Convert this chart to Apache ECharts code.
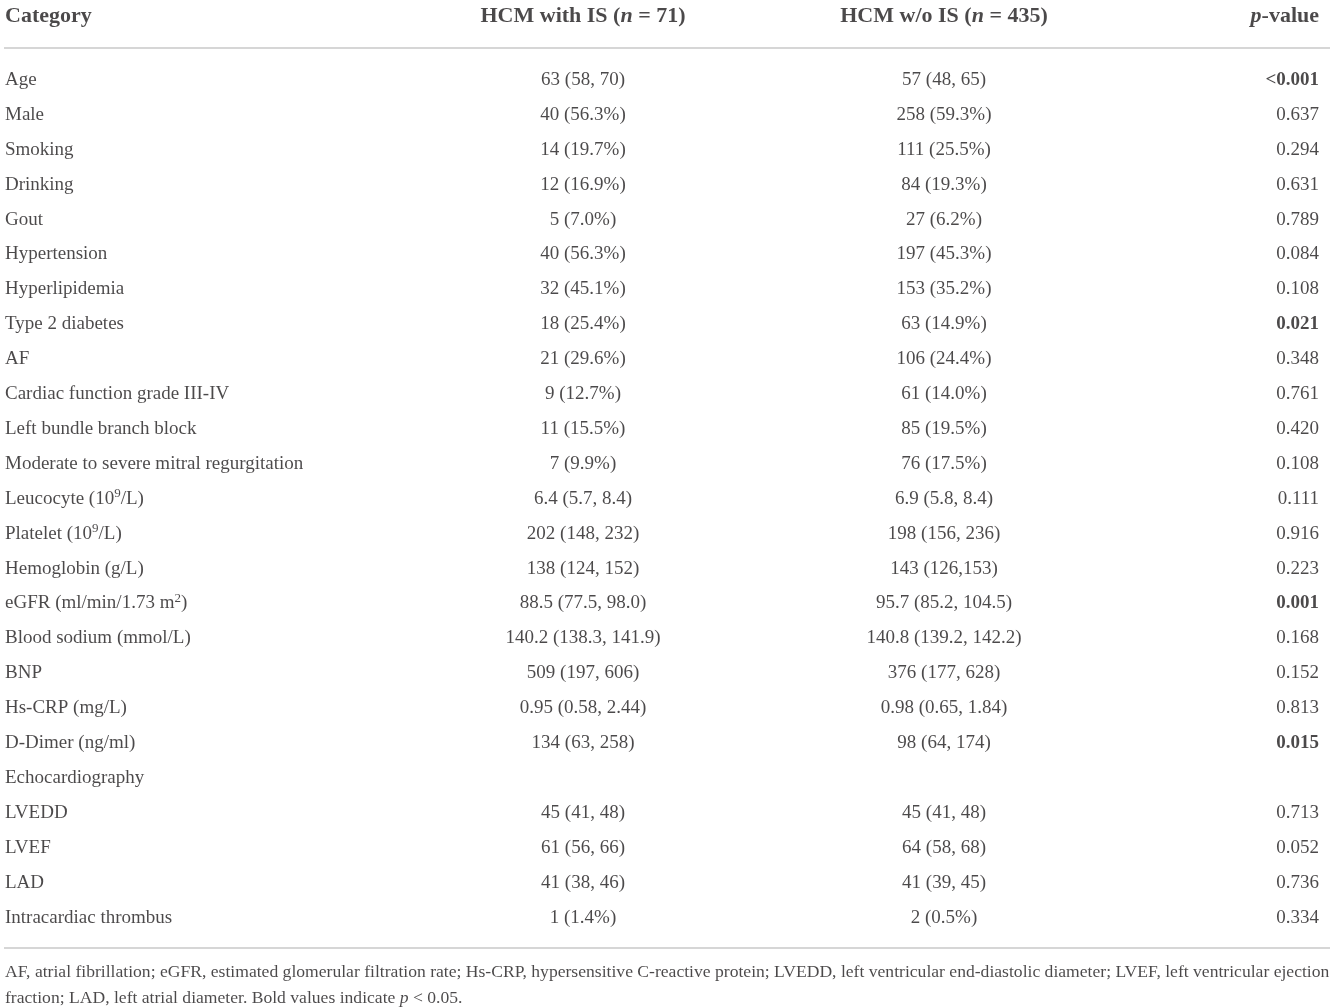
<!DOCTYPE html>
<html>
<head>
<meta charset="utf-8">
<script src="https://cdn.jsdelivr.net/npm/echarts@6/dist/echarts.min.js"></script>
<style>
  html, body { margin: 0; padding: 0; background: #fff; }
  #chart { width: 1334px; height: 1008px; }
</style>
</head>
<body>
<div id="chart"></div>
<script>
// Baseline characteristics table drawn as label-only scatter series.
const headers = ['Category', 'HCM with IS ({i|n} = 71)', 'HCM w/o IS ({i|n} = 435)', '{i|p}-value'];

const categories = [
  'Age', 'Male', 'Smoking', 'Drinking', 'Gout', 'Hypertension', 'Hyperlipidemia',
  'Type 2 diabetes', 'AF', 'Cardiac function grade III-IV', 'Left bundle branch block',
  'Moderate to severe mitral regurgitation', 'Leucocyte (10{sup|9}/L)', 'Platelet (10{sup|9}/L)',
  'Hemoglobin (g/L)', 'eGFR (ml/min/1.73 m{sup|2})', 'Blood sodium (mmol/L)', 'BNP',
  'Hs-CRP (mg/L)', 'D-Dimer (ng/ml)', 'Echocardiography', 'LVEDD', 'LVEF', 'LAD',
  'Intracardiac thrombus',
];
const withIS = [
  '63 (58, 70)', '40 (56.3%)', '14 (19.7%)', '12 (16.9%)', '5 (7.0%)', '40 (56.3%)', '32 (45.1%)',
  '18 (25.4%)', '21 (29.6%)', '9 (12.7%)', '11 (15.5%)', '7 (9.9%)', '6.4 (5.7, 8.4)',
  '202 (148, 232)', '138 (124, 152)', '88.5 (77.5, 98.0)', '140.2 (138.3, 141.9)', '509 (197, 606)',
  '0.95 (0.58, 2.44)', '134 (63, 258)', '', '45 (41, 48)', '61 (56, 66)', '41 (38, 46)', '1 (1.4%)',
];
const withoutIS = [
  '57 (48, 65)', '258 (59.3%)', '111 (25.5%)', '84 (19.3%)', '27 (6.2%)', '197 (45.3%)', '153 (35.2%)',
  '63 (14.9%)', '106 (24.4%)', '61 (14.0%)', '85 (19.5%)', '76 (17.5%)', '6.9 (5.8, 8.4)',
  '198 (156, 236)', '143 (126,153)', '95.7 (85.2, 104.5)', '140.8 (139.2, 142.2)', '376 (177, 628)',
  '0.98 (0.65, 1.84)', '98 (64, 174)', '', '45 (41, 48)', '64 (58, 68)', '41 (39, 45)', '2 (0.5%)',
];
const pValues = [
  '<0.001', '0.637', '0.294', '0.631', '0.789', '0.084', '0.108', '0.021', '0.348', '0.761',
  '0.420', '0.108', '0.111', '0.916', '0.223', '0.001', '0.168', '0.152', '0.813', '0.015',
  '', '0.713', '0.052', '0.736', '0.334',
];
const notes = [
  'AF, atrial fibrillation; eGFR, estimated glomerular filtration rate; Hs-CRP, hypersensitive C-reactive protein; LVEDD, left ventricular end-diastolic diameter; LVEF, left ventricular ejection',
  'fraction; LAD, left atrial diameter. Bold values indicate {i|p} < 0.05.',
];

// layout (pixel rows -> axis units)
const FONT = "'Liberation Serif', 'Times New Roman', serif";
const INK = '#1e1c1d';
const ROW_Y0 = 80;
const ROW_H = 34.9;
const Y_MIN = -ROW_Y0 / ROW_H;
const Y_MAX = Y_MIN + 1008 / ROW_H;
const COL_X = [5, 583, 944, 1319];
const HEAD_ROW = -1.834;
const RULES = [-0.905, 24.87];
const NOTE_ROWS = [25.56, 26.31];
const BODY_SIZE = 19;
const HEAD_SIZE = 22;
const NOTE_SIZE = 17.6;

function richFor(size, bold) {
  return {
    i: { fontFamily: FONT, fontStyle: 'italic', fontWeight: bold ? 'bold' : 'normal', fontSize: size, color: INK },
    sup: { fontFamily: FONT, fontSize: Math.round(size * 0.66), color: INK, verticalAlign: 'top', lineHeight: 12 },
  };
}

function textSeries(name, texts, x, align, rows, extra) {
  const data = [];
  texts.forEach((s, i) => {
    if (!s) return;
    const item = { name: s, value: [x, rows ? rows[i] : i] };
    if (extra) item.label = extra(s, i);
    data.push(item);
  });
  return {
    type: 'scatter', name, data, symbolSize: 0, clip: false, silent: true,
    label: {
      show: true, position: 'inside', align, verticalAlign: 'middle',
      formatter: (p) => p.name, fontFamily: FONT, fontSize: BODY_SIZE, color: INK,
      lineHeight: 23, rich: richFor(BODY_SIZE, false),
    },
  };
}

const isBold = (p) => parseFloat(p.replace('<', '')) < 0.05;

const headerSeries = headers.map((h, c) => textSeries(
  'head' + c, [h], COL_X[c], ['left', 'center', 'center', 'right'][c], [HEAD_ROW],
  () => ({ fontWeight: 'bold', fontSize: HEAD_SIZE, rich: richFor(HEAD_SIZE, true) }),
));

const catSeries = textSeries('category', categories, COL_X[0], 'left');
catSeries.markLine = {
  silent: true, symbol: ['none', 'none'], animation: false,
  label: { show: false },
  lineStyle: { color: '#c8c8c8', width: 1.5, type: 'solid' },
  data: RULES.map((r) => ({ yAxis: r })),
};

const chart = echarts.init(document.getElementById('chart'));
chart.setOption({
  animation: false,
  grid: { left: 4, right: 4, top: 0, bottom: 0 },
  xAxis: { type: 'value', min: 4, max: 1330, show: false },
  yAxis: { type: 'value', inverse: true, min: Y_MIN, max: Y_MAX, show: false },
  series: [
    ...headerSeries,
    catSeries,
    textSeries('withIS', withIS, COL_X[1], 'center'),
    textSeries('withoutIS', withoutIS, COL_X[2], 'center'),
    textSeries('p', pValues, COL_X[3], 'right', null,
      (s) => (isBold(s) ? { fontWeight: 'bold' } : {})),
    textSeries('notes', notes, COL_X[0], 'left', NOTE_ROWS,
      () => ({ fontSize: NOTE_SIZE, rich: richFor(NOTE_SIZE, false) })),
  ],
});
</script>
</body>
</html>
